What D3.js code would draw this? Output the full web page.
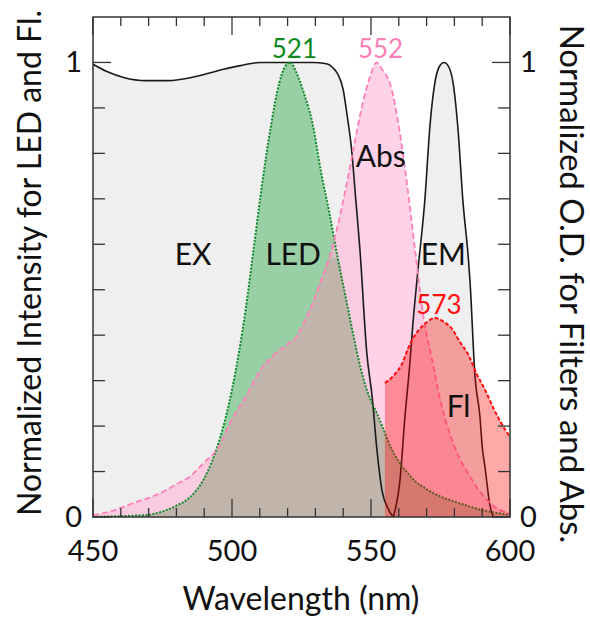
<!DOCTYPE html>
<html>
<head>
<meta charset="utf-8">
<script src="https://cdn.jsdelivr.net/npm/d3@7"></script>
<style>
  body { margin: 0; background: #fff; }
  svg text { font-family: Lato, "Open Sans", sans-serif; }
</style>
</head>
<body>
<svg id="chart" width="590" height="617"></svg>
<script>
// shared wavelength grid for the LED and Abs spectra
var wl = [450, 455, 460, 465, 470, 475, 480, 485, 490, 495, 500, 505, 508, 511, 514, 517, 519, 521,
          523, 526, 529, 532, 535, 538, 541, 544, 547, 550, 552, 554, 557, 560, 563, 566, 569, 572,
          575, 580, 585, 590, 595, 600];
var led = [0, 0.001, 0.002, 0.003, 0.005, 0.012, 0.025, 0.044, 0.085, 0.16, 0.28, 0.46, 0.6, 0.74,
           0.86, 0.955, 0.99, 1.0, 0.98, 0.93, 0.865, 0.76, 0.67, 0.57, 0.48, 0.39, 0.31, 0.255,
           0.23, 0.2, 0.155, 0.122, 0.098, 0.078, 0.065, 0.054, 0.045, 0.034, 0.024, 0.015, 0.009, 0.005];
var abs = [0.004, 0.01, 0.02, 0.032, 0.042, 0.055, 0.072, 0.09, 0.12, 0.152, 0.215, 0.265, 0.3, 0.33,
           0.35, 0.367, 0.375, 0.385, 0.395, 0.43, 0.47, 0.52, 0.57, 0.64, 0.725, 0.82, 0.91, 0.975,
           1.0, 0.985, 0.95, 0.86, 0.73, 0.58, 0.435, 0.345, 0.255, 0.155, 0.095, 0.05, 0.02, 0.008];

// excitation filter
var exWl  = [450, 455, 461, 469, 477, 487, 497, 503, 510, 520, 529, 534, 536, 538, 540, 541.5, 543,
             544.5, 546, 548.5, 550.5, 552, 554, 556, 558];
var exVal = [0.996, 0.98, 0.967, 0.96, 0.96, 0.969, 0.985, 0.993, 1.0, 1.0, 1.0, 0.997, 0.99, 0.975,
             0.94, 0.88, 0.81, 0.70, 0.59, 0.36, 0.26, 0.156, 0.057, 0.02, 0];

// emission filter
var emWl  = [558, 560.4, 562.2, 564, 565, 567, 569.4, 571.2, 573, 574.5, 576.3, 578, 579.5, 581.4,
             583, 585, 585.6, 587.4, 589.2, 590, 591, 592.8, 594];
var emVal = [0, 0.08, 0.22, 0.34, 0.42, 0.55, 0.70, 0.86, 0.956, 0.99, 1.0, 0.99, 0.956, 0.845,
             0.70, 0.57, 0.52, 0.31, 0.22, 0.155, 0.11, 0.025, 0];

// fluorescence
var flWl  = [555, 558, 561, 564, 567, 570, 573, 576, 579, 582, 585, 588, 591, 594, 597, 600];
var flVal = [0.295, 0.31, 0.335, 0.38, 0.41, 0.428, 0.438, 0.43, 0.415, 0.385, 0.357, 0.315, 0.28,
             0.24, 0.205, 0.176];

var xTicks = [450, 500, 550, 600];
var yTicks = [0, 1];

var svg = d3.select("#chart");
var pL = 93, pT = 17, pR = 510, pB = 517;

var x = d3.scaleLinear().domain([450, 600]).range([pL, pR]);
var y = d3.scaleLinear().domain([0, 1.1]).range([pB, pT]);

svg.append("clipPath").attr("id", "plot")
    .append("rect").attr("x", pL).attr("y", pT)
    .attr("width", pR - pL).attr("height", pB - pT);

var g = svg.append("g").attr("clip-path", "url(#plot)");

var area = d3.area()
    .x(d => x(d[0]))
    .y0(y(0))
    .y1(d => y(d[1]))
    .curve(d3.curveMonotoneX);
var line = d3.line()
    .x(d => x(d[0]))
    .y(d => y(d[1]))
    .curve(d3.curveMonotoneX);

var exData = d3.zip(exWl, exVal);
var emData = d3.zip(emWl, emVal);
var ledData = d3.zip(wl, led);
var absData = d3.zip(wl, abs);
var bothData = wl.map((w, i) => [w, Math.min(led[i], abs[i])]);
var flData = d3.zip(flWl, flVal);

// fills
g.append("path").attr("d", area(exData)).attr("fill", "#efefef");
g.append("path").attr("d", area(emData)).attr("fill", "#efefef");
g.append("path").attr("d", area(ledData)).attr("fill", "#98cfa4");
g.append("path").attr("d", area(absData)).attr("fill", "rgba(255,180,215,0.6)");
g.append("path").attr("d", area(bothData)).attr("fill", "#c1b5ab");

// lines
g.append("path").attr("d", line(exData)).attr("fill", "none").attr("stroke", "#1a1a1a").attr("stroke-width", 1.6);
g.append("path").attr("d", line(emData)).attr("fill", "none").attr("stroke", "#1a1a1a").attr("stroke-width", 1.6);
g.append("path").attr("d", line(ledData)).attr("fill", "none").attr("stroke", "#0f8a2a")
    .attr("stroke-width", 2).attr("stroke-dasharray", "2,1.5");
g.append("path").attr("d", line(absData)).attr("fill", "none").attr("stroke", "#ff80b8")
    .attr("stroke-width", 1.8).attr("stroke-dasharray", "6,3");

// fluorescence on top, semi transparent
g.append("path").attr("d", area(flData)).attr("fill", "rgba(255,0,0,0.34)");
g.append("path").attr("d", line(flData)).attr("fill", "none").attr("stroke", "#ff1010")
    .attr("stroke-width", 2).attr("stroke-dasharray", "4,2");

// frame and inward ticks
var axisCol = "#333";
svg.append("rect").attr("x", pL).attr("y", pT).attr("width", pR - pL).attr("height", pB - pT)
    .attr("fill", "none").attr("stroke", axisCol).attr("stroke-width", 1.5);

var xMinor = d3.range(450, 601, 10);
xMinor.forEach(function(v) {
    var len = v % 50 === 0 ? 18 : 9;
    svg.append("line").attr("x1", x(v)).attr("x2", x(v)).attr("y1", pB).attr("y2", pB - len)
        .attr("stroke", axisCol).attr("stroke-width", 1.3);
    svg.append("line").attr("x1", x(v)).attr("x2", x(v)).attr("y1", pT).attr("y2", pT + len)
        .attr("stroke", axisCol).attr("stroke-width", 1.3);
});
var yMinor = d3.range(0, 11).map(d => d / 10);
yMinor.forEach(function(v, i) {
    var len = (i === 0 || i === 10) ? 18 : 12;
    svg.append("line").attr("x1", pL).attr("x2", pL + len).attr("y1", y(v)).attr("y2", y(v))
        .attr("stroke", axisCol).attr("stroke-width", 1.3);
    svg.append("line").attr("x1", pR).attr("x2", pR - len).attr("y1", y(v)).attr("y2", y(v))
        .attr("stroke", axisCol).attr("stroke-width", 1.3);
});

// tick labels
svg.selectAll(".xl").data(xTicks).enter().append("text")
    .attr("x", d => x(d)).attr("y", 561).attr("text-anchor", "middle")
    .attr("font-size", 29).attr("fill", "#111").text(d => d);
svg.selectAll(".yl").data(yTicks).enter().append("text")
    .attr("x", 82).attr("y", d => y(d) + 10).attr("text-anchor", "end")
    .attr("font-size", 29).attr("fill", "#111").text(d => d);
svg.selectAll(".yr").data(yTicks).enter().append("text")
    .attr("x", 520).attr("y", d => y(d) + 10).attr("text-anchor", "start")
    .attr("font-size", 29).attr("fill", "#111").text(d => d);

// axis titles
svg.append("text").attr("x", 301).attr("y", 610).attr("text-anchor", "middle")
    .attr("font-size", 32).attr("fill", "#111").text("Wavelength (nm)");
svg.append("text").attr("transform", "translate(41,263) rotate(-90)").attr("text-anchor", "middle")
    .attr("font-size", 32).attr("fill", "#111").text("Normalized Intensity for LED and Fl.");
svg.append("text").attr("transform", "translate(560,284) rotate(90)").attr("text-anchor", "middle")
    .attr("font-size", 33).attr("fill", "#111").text("Normalized O.D. for Filters and Abs.");

// curve labels
var labels = [
    {t: "EX", w: 486, v: 0.555},
    {t: "LED", w: 522, v: 0.555},
    {t: "Abs", w: 553.5, v: 0.77},
    {t: "EM", w: 576, v: 0.555},
    {t: "Fl", w: 581.5, v: 0.22}
];
svg.selectAll(".cl").data(labels).enter().append("text")
    .attr("x", d => x(d.w)).attr("y", d => y(d.v)).attr("text-anchor", "middle")
    .attr("font-size", 30).attr("fill", "#111").text(d => d.t);

var peaks = [
    {t: "521", w: 521, v: 1.0, c: "#0d8a1e"},
    {t: "552", w: 552, v: 1.0, c: "#ff80b8"},
    {t: "573", w: 573, v: 0.438, c: "#ff1010"}
];
svg.selectAll(".pk").data(peaks).enter().append("text")
    .attr("x", d => x(d.w) + 4).attr("y", d => y(d.v) - 4).attr("text-anchor", "middle")
    .attr("font-size", 26).attr("fill", d => d.c).text(d => d.t);
</script>
</body>
</html>
